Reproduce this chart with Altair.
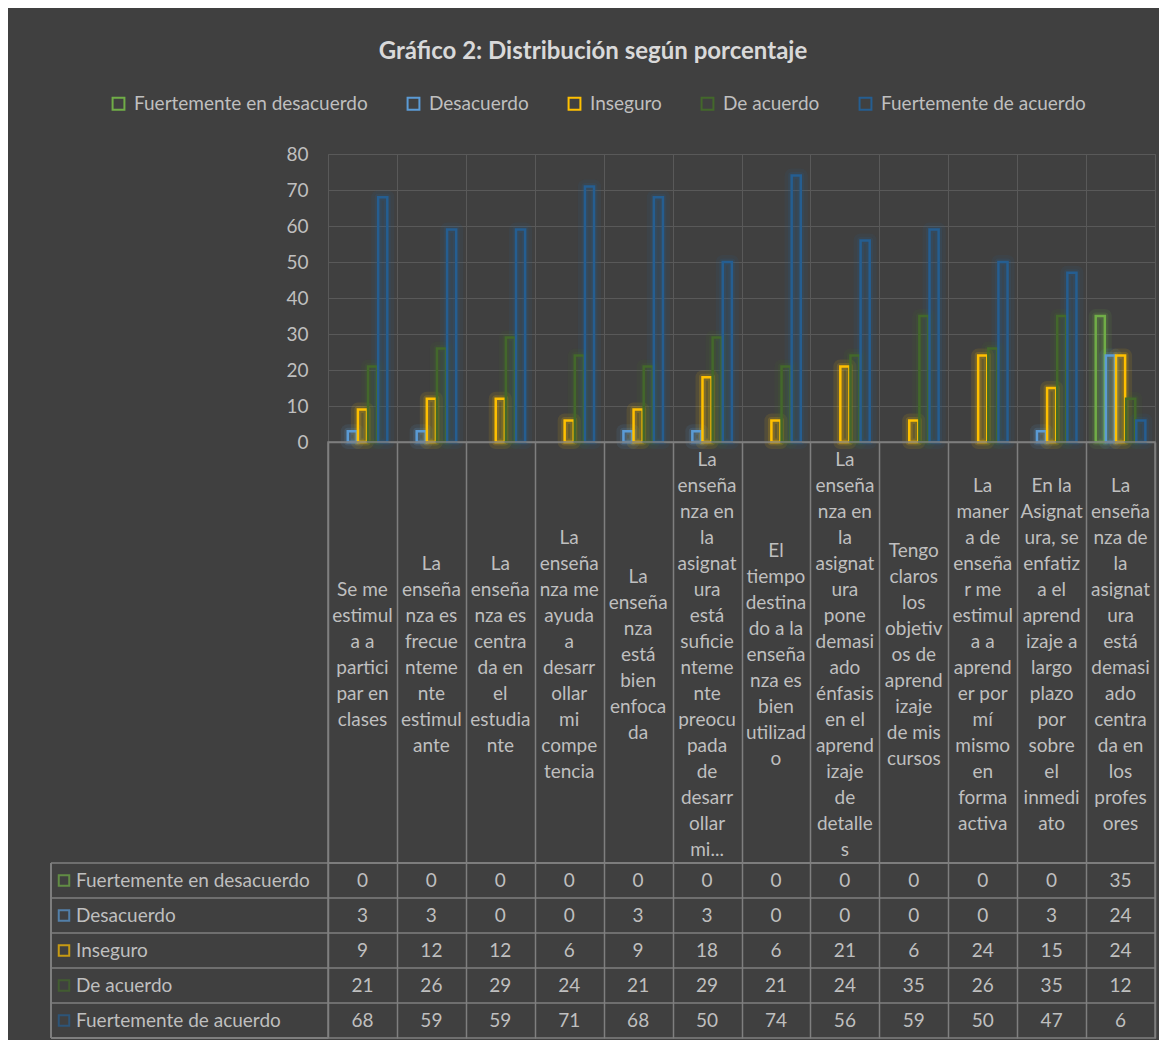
import altair as alt
import pandas as pd

title_text = "Gráfico 2:  Distribución según porcentaje"

series = ["Fuertemente en desacuerdo", "Desacuerdo", "Inseguro", "De acuerdo", "Fuertemente de acuerdo"]
colors = ["#70AD47", "#5B9BD5", "#FFC000", "#43682B", "#255E91"]

categories = [
    "Se me estimula a participar en clases",
    "La enseñanza es frecuentemente estimulante",
    "La enseñanza es centrada en el estudiante",
    "La enseñanza me ayuda a desarrollar mi competencia",
    "La enseñanza está bien enfocada",
    "La enseñanza en la asignatura está suficientemente preocupada de desarrollar mi...",
    "El tiempo destinado a la enseñanza es bien utilizado",
    "La enseñanza en la asignatura pone demasiado énfasis en el aprendizaje de detalles",
    "Tengo claros los objetivos de aprendizaje de mis cursos",
    "La manera de enseñar me estimula a aprender por mí mismo en forma activa",
    "En la Asignatura, se enfatiza el aprendizaje a largo plazo por sobre el inmediato",
    "La enseñanza de la asignatura está demasiado centrada en los profesores",
]

# category labels as wrapped in the reference
label_lines = [
    ["Se me", "estimul", "a a", "partici", "par en", "clases"],
    ["La", "enseña", "nza es", "frecue", "nteme", "nte", "estimul", "ante"],
    ["La", "enseña", "nza es", "centra", "da en", "el", "estudia", "nte"],
    ["La", "enseña", "nza me", "ayuda", "a", "desarr", "ollar", "mi", "compe", "tencia"],
    ["La", "enseña", "nza", "está", "bien", "enfoca", "da"],
    ["La", "enseña", "nza en", "la", "asignat", "ura", "está", "suficie", "nteme", "nte",
     "preocu", "pada", "de", "desarr", "ollar", "mi..."],
    ["El", "tiempo", "destina", "do a la", "enseña", "nza es", "bien", "utilizad", "o"],
    ["La", "enseña", "nza en", "la", "asignat", "ura", "pone", "demasi", "ado", "énfasis",
     "en el", "aprend", "izaje", "de", "detalle", "s"],
    ["Tengo", "claros", "los", "objetiv", "os de", "aprend", "izaje", "de mis", "cursos"],
    ["La", "maner", "a de", "enseña", "r me", "estimul", "a a", "aprend", "er por", "mí",
     "mismo", "en", "forma", "activa"],
    ["En la", "Asignat", "ura, se", "enfatiz", "a el", "aprend", "izaje a", "largo", "plazo",
     "por", "sobre", "el", "inmedi", "ato"],
    ["La", "enseña", "nza de", "la", "asignat", "ura", "está", "demasi", "ado", "centra",
     "da en", "los", "profes", "ores"],
]

fuertemente_desacuerdo = [0, 0, 0, 0, 0, 0, 0, 0, 0, 0, 0, 35]
desacuerdo = [3, 3, 0, 0, 3, 3, 0, 0, 0, 0, 3, 24]
inseguro = [9, 12, 12, 6, 9, 18, 6, 21, 6, 24, 15, 24]
de_acuerdo = [21, 26, 29, 24, 21, 29, 21, 24, 35, 26, 35, 12]
fuertemente_acuerdo = [68, 59, 59, 71, 68, 50, 74, 56, 59, 50, 47, 6]

y_ticks = [0, 10, 20, 30, 40, 50, 60, 70, 80]

values_by_series = [fuertemente_desacuerdo, desacuerdo, inseguro, de_acuerdo, fuertemente_acuerdo]
rows = []
for s, vals in zip(series, values_by_series):
    for c, v in zip(categories, vals):
        rows.append({"cat": c, "series": s, "value": v})
df = pd.DataFrame(rows)
labels_df = pd.DataFrame({"cat": categories, "label": ["\n".join(l) for l in label_lines]})
series_df = pd.DataFrame({"series": series})

FONT = "Lato"
TXT = "#bfbfbf"
GRID = "#595959"
LINE = "#7f7f7f"
BG = "#404040"

W = 827
H_BAR = 288
H_LAB = 421
H_TAB = 175
LEFT_COL = 277
LINE_H = 26

color_scale = alt.Scale(domain=series, range=colors)
x_scale = alt.Scale(type="band", domain=categories, paddingInner=0, paddingOuter=0)

x_bar = alt.X("cat:N", sort=categories, scale=x_scale,
              axis=alt.Axis(title=None, labels=False, ticks=False, domain=True, domainColor=LINE,
                            domainWidth=1.5, grid=True, gridColor=GRID, tickBand="extent", zindex=0))
y_bar = alt.Y("value:Q", scale=alt.Scale(domain=[0, 80], nice=False),
              axis=alt.Axis(title=None, values=y_ticks, ticks=False, domain=False, grid=True,
                            gridColor=GRID, labelFont=FONT, labelFontSize=19, labelColor=TXT,
                            labelPadding=20, zindex=0))
xoff = alt.XOffset("series:N", sort=series,
                   scale=alt.Scale(domain=series, paddingInner=0.1, paddingOuter=0.95))

base = alt.Chart(df).transform_filter("datum.value > 0")

# soft glow around each bar (two translucent halos)
glow_outer = base.mark_bar(fillOpacity=0.12, strokeOpacity=0.1, strokeWidth=14, strokeJoin="round").encode(
    x=x_bar, y=y_bar, xOffset=xoff,
    fill=alt.Fill("series:N", scale=color_scale, legend=None),
    stroke=alt.Stroke("series:N", scale=color_scale, legend=None),
)
glow_inner = base.mark_bar(fillOpacity=0.0, strokeOpacity=0.16, strokeWidth=7, strokeJoin="round").encode(
    x=x_bar, y=y_bar, xOffset=xoff,
    stroke=alt.Stroke("series:N", scale=color_scale, legend=None),
)
bars = base.mark_bar(filled=False, strokeWidth=2.5).encode(
    x=x_bar, y=y_bar, xOffset=xoff,
    color=alt.Color("series:N", scale=color_scale, sort=series,
                    legend=alt.Legend(orient="none", legendX=-219, legendY=-60, direction="horizontal",
                                      title=None, symbolType="square", symbolSize=140,
                                      symbolStrokeWidth=2, labelFont=FONT, labelFontSize=19,
                                      labelColor=TXT, labelOffset=6, columnPadding=35,
                                      labelLimit=500, padding=0, columns=5)),
)
bar_chart = alt.layer(glow_outer, glow_inner, bars).properties(
    width=W, height=H_BAR, view=alt.ViewBackground(stroke=GRID)
)

x_plain = alt.X("cat:N", sort=categories, scale=x_scale,
                axis=alt.Axis(title=None, labels=False, ticks=False, domain=False, grid=True,
                              gridColor=LINE, gridWidth=1.5, tickBand="extent", zindex=0))

label_chart = alt.Chart(labels_df).transform_calculate(
    nlines="length(split(datum.label, '\\n'))"
).transform_calculate(
    ypx=f"{H_LAB / 2 + 2} - (datum.nlines - 1) * {LINE_H / 2}"
).mark_text(
    font=FONT, fontSize=19, color=TXT, lineBreak="\n", lineHeight=LINE_H, align="center", baseline="middle"
).encode(
    x=x_plain, y=alt.Y("ypx:Q", scale=None, axis=None), text="label:N"
).properties(width=W, height=H_LAB, view=alt.ViewBackground(stroke=LINE, strokeWidth=1.5))

y_tab = alt.Y("series:N", sort=series, scale=alt.Scale(domain=series, paddingInner=0, paddingOuter=0),
              axis=None)
tab_vals = alt.Chart(df).mark_text(font=FONT, fontSize=19, color=TXT).encode(
    x=x_plain, y=y_tab, text="value:Q"
)
row_lines = alt.Chart(series_df).mark_rule(color=LINE, strokeWidth=1.5).encode(
    y=alt.Y("series:N", sort=series, bandPosition=0,
            scale=alt.Scale(domain=series, paddingInner=0, paddingOuter=0), axis=None),
    x=alt.value(-LEFT_COL), x2=alt.value(W),
)
bottom_line = alt.Chart(series_df).mark_rule(color=LINE, strokeWidth=1.5).encode(
    y=alt.value(H_TAB), x=alt.value(-LEFT_COL), x2=alt.value(0)
)
left_line = alt.Chart(series_df).mark_rule(color=LINE, strokeWidth=1.5).encode(
    x=alt.value(-LEFT_COL), y=alt.value(0), y2=alt.value(H_TAB)
)
swatches = alt.Chart(series_df).mark_square(filled=False, size=110, strokeWidth=2).encode(
    x=alt.value(-LEFT_COL + 13), y=y_tab,
    color=alt.Color("series:N", scale=color_scale, legend=None),
)
row_names = alt.Chart(series_df).mark_text(font=FONT, fontSize=19, color=TXT, align="left").encode(
    x=alt.value(-LEFT_COL + 25), y=y_tab, text="series:N"
)
table_chart = alt.layer(row_lines, bottom_line, left_line, tab_vals, swatches, row_names).properties(
    width=W, height=H_TAB, view=alt.ViewBackground(stroke=LINE, strokeWidth=1.5)
)

chart = alt.vconcat(bar_chart, label_chart, table_chart, spacing=0).resolve_scale(
    color="independent"
).resolve_legend(color="independent").properties(
    bounds="flush",
    title=alt.TitleParams(title_text, font=FONT, fontSize=24, fontWeight="bold", color="#d9d9d9",
                          anchor="middle", offset=30, dx=-10),
    padding={"left": 41, "top": 31, "right": 2, "bottom": 0},
).configure(background=BG, font=FONT)

chart.save("out.html", embed_options={"renderer": "svg", "actions": False})
